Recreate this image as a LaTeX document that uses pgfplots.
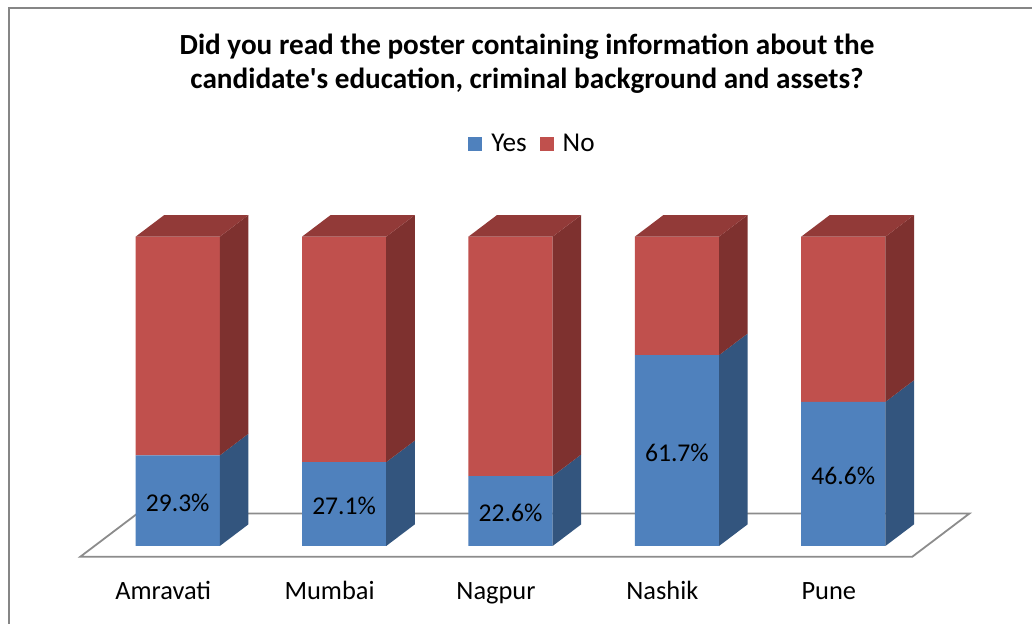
\documentclass[border=0pt]{standalone}
\usepackage{fontspec}
\setmainfont{Carlito}
\usepackage{pgfplots}
\usepackage{pgfplotstable}
\pgfplotsset{compat=1.18}
\definecolor{bfront}{RGB}{79,129,189}
\definecolor{bside}{RGB}{51,85,126}
\definecolor{rfront}{RGB}{192,80,77}
\definecolor{rside}{RGB}{126,49,47}
\definecolor{rtop}{RGB}{146,58,56}
\definecolor{floorline}{RGB}{140,140,140}
\definecolor{frame}{RGB}{134,134,134}

\pgfplotstableread{
idx city yes no
0 Amravati 29.3 70.7
1 Mumbai   27.1 72.9
2 Nagpur   22.6 77.4
3 Nashik   61.7 38.3
4 Pune     46.6 53.4
}\datatable

\pgfplotsset{myaxis/.style={
  at={(47.25pt,39pt)}, anchor=south west,
  scale only axis, width=416pt, height=154.65pt,
  xmin=-0.5, xmax=4.5, ymin=0, ymax=100,
  clip=false, axis line style={draw=none}, tick style={draw=none},
  xtick=\empty, ytick=\empty,
}}

\begin{document}
\begin{tikzpicture}[x=1pt,y=1pt]
\useasboundingbox (0,0) rectangle (516,312);
\draw[frame, line width=1pt] (4.25,0) -- (4.25,307.75) -- (516,307.75);
\node[font=\bfseries\fontsize{14.6}{16}\selectfont, anchor=base] at (263.5,284.6) {Did you read the poster containing information about the};
\node[font=\bfseries\fontsize{14.6}{16}\selectfont, anchor=base] at (263.5,267.6) {candidate\textquotesingle s education, criminal background and assets?};

% floor
\begin{axis}[myaxis]
\addplot[forget plot, fill=white, draw=floorline, line width=0.9pt]
  coordinates {(-0.586,-3.5) (4.414,-3.5) (4.758,10.5) (-0.242,10.5)} -- cycle;
\end{axis}

% front faces (stacked)
\begin{axis}[myaxis,
  ybar stacked, bar width=0.506,
  xtick={0,1,2,3,4},
  xticklabels={Amravati,Mumbai,Nagpur,Nashik,Pune},
  xticklabel style={font=\fontsize{13.2}{15}\selectfont, anchor=base, yshift=-27pt, xshift=-7.25pt},
  legend columns=2,
  legend style={at={(0.5306,1.2997)}, anchor=center, draw=none, fill=none,
    font=\fontsize{13.6}{15}\selectfont,
    nodes={inner xsep=4.5pt},
    /tikz/every even column/.append style={column sep=2pt}},
  legend image code/.code={\fill[#1] (0pt,-3.5pt) rectangle (7pt,3.5pt);},
]
\addplot[fill=bfront, draw=none] table[x=idx, y=yes] {\datatable};
\addlegendentry{Yes}
\addplot[fill=rfront, draw=none] table[x=idx, y=no] {\datatable};
\addlegendentry{No}
\end{axis}

% side and top faces, data labels
\begin{axis}[myaxis]
% Amravati
\addplot[forget plot, fill=bside, draw=none] coordinates {(0.253,0) (0.425,7) (0.425,36.3) (0.253,29.3)} -- cycle;
\addplot[forget plot, fill=rside, draw=none] coordinates {(0.253,29.3) (0.425,36.3) (0.425,107) (0.253,100)} -- cycle;
\addplot[forget plot, fill=rtop, draw=none] coordinates {(-0.253,100) (-0.081,107) (0.425,107) (0.253,100)} -- cycle;
% Mumbai
\addplot[forget plot, fill=bside, draw=none] coordinates {(1.253,0) (1.425,7) (1.425,34.1) (1.253,27.1)} -- cycle;
\addplot[forget plot, fill=rside, draw=none] coordinates {(1.253,27.1) (1.425,34.1) (1.425,107) (1.253,100)} -- cycle;
\addplot[forget plot, fill=rtop, draw=none] coordinates {(0.747,100) (0.919,107) (1.425,107) (1.253,100)} -- cycle;
% Nagpur
\addplot[forget plot, fill=bside, draw=none] coordinates {(2.253,0) (2.425,7) (2.425,29.6) (2.253,22.6)} -- cycle;
\addplot[forget plot, fill=rside, draw=none] coordinates {(2.253,22.6) (2.425,29.6) (2.425,107) (2.253,100)} -- cycle;
\addplot[forget plot, fill=rtop, draw=none] coordinates {(1.747,100) (1.919,107) (2.425,107) (2.253,100)} -- cycle;
% Nashik
\addplot[forget plot, fill=bside, draw=none] coordinates {(3.253,0) (3.425,7) (3.425,68.7) (3.253,61.7)} -- cycle;
\addplot[forget plot, fill=rside, draw=none] coordinates {(3.253,61.7) (3.425,68.7) (3.425,107) (3.253,100)} -- cycle;
\addplot[forget plot, fill=rtop, draw=none] coordinates {(2.747,100) (2.919,107) (3.425,107) (3.253,100)} -- cycle;
% Pune
\addplot[forget plot, fill=bside, draw=none] coordinates {(4.253,0) (4.425,7) (4.425,53.6) (4.253,46.6)} -- cycle;
\addplot[forget plot, fill=rside, draw=none] coordinates {(4.253,46.6) (4.425,53.6) (4.425,107) (4.253,100)} -- cycle;
\addplot[forget plot, fill=rtop, draw=none] coordinates {(3.747,100) (3.919,107) (4.425,107) (4.253,100)} -- cycle;
% labels
\addplot[forget plot, draw=none, mark=none,
  nodes near coords={\pgfmathprintnumber[fixed,precision=1,fixed zerofill,assume math mode=true]{\pgfplotspointmeta}\%},
  point meta=\thisrow{yes},
  every node near coord/.append style={anchor=center, yshift=-1pt, font=\fontsize{12.8}{15}\selectfont, text=black},
] table[x=idx, y expr=\thisrow{yes}/2] {\datatable};
\end{axis}
\end{tikzpicture}
\end{document}
